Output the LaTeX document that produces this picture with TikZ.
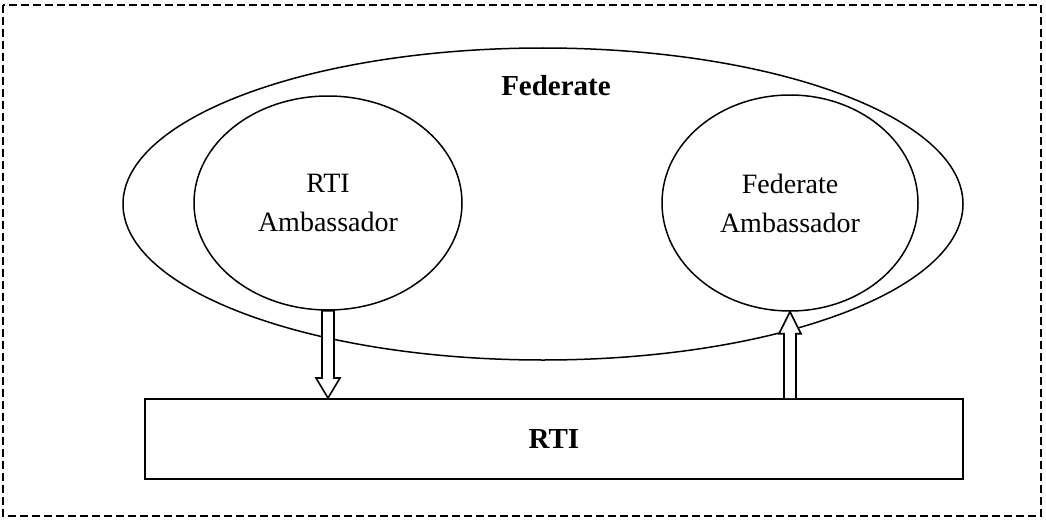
\documentclass[tikz,border=0pt]{standalone}
\usepackage{fontspec}
\setmainfont{Liberation Serif}
\usetikzlibrary{shapes.geometric,calc}
\begin{document}
\begin{tikzpicture}[x=1pt,y=-1pt,
  outline/.style={draw=black,line width=1.5pt},
  oval/.style={outline,ellipse,inner sep=0pt,align=center,
    font=\fontsize{28}{39}\selectfont},
  hollow/.style={draw=black,line width=1.6pt,fill=white,line join=miter},
  frame/.style={draw=black,line width=1.8pt,dash pattern=on 8pt off 4pt}]
  \useasboundingbox (0,0) rectangle (1046,519);
  % dashed frame around the whole figure
  \draw[frame] (3,5) rectangle (1041,516);
  % federate and its two ambassadors
  \node[oval,minimum width=840pt,minimum height=312pt] (fed) at (543,204) {};
  \node[font=\fontsize{29}{35}\selectfont\bfseries] (fedlabel) at (556,86) {Federate};
  \node[oval,minimum width=268pt,minimum height=214pt] (rtiamb) at (328,203)
    {RTI\\Ambassador};
  \node[oval,minimum width=256pt,minimum height=216pt] (fedamb) at (790,203)
    {Federate\\Ambassador};
  % the RTI bar
  \node[draw=black,line width=2pt,minimum width=818pt,minimum height=80pt,
    inner sep=0pt,font=\fontsize{29}{35}\selectfont\bfseries] (rti) at (554,439) {RTI};
  % call from RTI ambassador down to RTI
  \draw[hollow] ($(rtiamb.south)+(-6,0)$)
    -- ($(rtiamb.south |- rti.north)+(-6,-20)$) -- ++(-6,0)
    -- (rtiamb.south |- rti.north)
    -- ++(12,-20) -- ++(-6,0)
    -- ($(rtiamb.south)+(6,0)$) -- cycle;
  % callback from RTI up to federate ambassador
  \draw[hollow] ($(fedamb.south |- rti.north)+(-6,0)$)
    -- ($(fedamb.south)+(-6,22)$) -- ++(-5,0)
    -- (fedamb.south)
    -- ++(11,22) -- ++(-5,0)
    -- ($(fedamb.south |- rti.north)+(6,0)$);
\end{tikzpicture}
\end{document}
